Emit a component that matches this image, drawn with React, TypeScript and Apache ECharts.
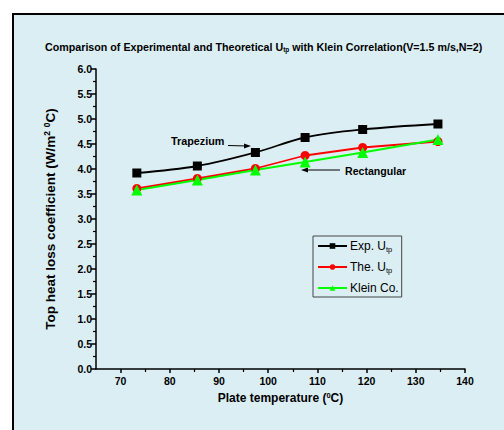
import React, { useEffect, useRef } from "react";
import * as echarts from "echarts";

const plateTemp = [73.3, 85.6, 97.4, 107.5, 119.2, 134.5];
const expUtp = [3.92, 4.06, 4.33, 4.63, 4.79, 4.9];
const theUtp = [3.61, 3.81, 4.01, 4.27, 4.43, 4.55];
const kleinCo = [3.58, 3.78, 3.98, 4.14, 4.33, 4.59];
const xMajorTicks = [70, 80, 90, 100, 110, 120, 130, 140];
const xMinorTicks = [75, 85, 95, 105, 115, 125, 135];

const FONT = "'Liberation Sans', Arial, sans-serif";

function pairs(xs: number[], ys: number[]) {
  return xs.map((x, i) => [x, ys[i]]);
}

export default function App() {
  const ref = useRef<HTMLDivElement>(null);
  useEffect(() => {
    if (!ref.current) return;
    const chart = echarts.init(ref.current, null, { renderer: "svg" });
    const axisCommon = {
      type: "value",
      axisLine: { show: true, lineStyle: { color: "#000", width: 1.5 } },
      splitLine: { show: false },
    };
    chart.setOption({
      animation: false,
      backgroundColor: "#ffffff",
      textStyle: { fontFamily: FONT },
      graphic: [
        {
          type: "rect",
          z: -10,
          silent: true,
          shape: { x: 13, y: 14, width: 520, height: 440 },
          style: { fill: "#dbeef4", stroke: "#000", lineWidth: 2 },
        },
        {
          type: "text",
          left: 171,
          top: 135,
          style: { text: "Trapezium", font: `bold 10.8px ${FONT}`, fill: "#000" },
        },
        {
          type: "line",
          shape: { x1: 228, y1: 145.5, x2: 247, y2: 146 },
          style: { stroke: "#000", lineWidth: 1 },
        },
        {
          type: "polygon",
          shape: { points: [[251, 146], [244, 143.5], [244, 148.5]] },
          style: { fill: "#000" },
        },
        {
          type: "text",
          left: 345,
          top: 165,
          style: { text: "Rectangular", font: `bold 10.6px ${FONT}`, fill: "#000" },
        },
        {
          type: "line",
          shape: { x1: 340, y1: 170, x2: 305, y2: 170 },
          style: { stroke: "#000", lineWidth: 1 },
        },
        {
          type: "polygon",
          shape: { points: [[301, 170], [308, 167.5], [308, 172.5]] },
          style: { fill: "#000" },
        },
      ],
      title: {
        left: 40,
        top: 35,
        text: "{t|Comparison of Experimental and Theoretical U}{s|tp}{t| with Klein Correlation(V=1.5 m/s,N=2)}",
        textStyle: {
          rich: {
            t: { fontSize: 10.7, fontWeight: "bold", fontFamily: FONT, color: "#000" },
            s: { fontSize: 6.5, fontWeight: "bold", fontFamily: FONT, color: "#000", padding: [6, 0, 0, 0] },
          },
        },
      },
      legend: {
        orient: "vertical",
        left: 313,
        top: 236,
        padding: [4, 3, 3, 4],
        itemWidth: 29,
        itemHeight: 7,
        itemGap: 8,
        borderColor: "#444",
        borderWidth: 1,
        backgroundColor: "#dbeef4",
        data: ["Exp. Utp", "The. Utp", "Klein Co."],
        formatter: (name: string) => {
          if (name.endsWith("Utp")) return `{a|${name.slice(0, -2)}}{s|tp}`;
          return `{a|${name}}`;
        },
        textStyle: {
          padding: [0, 0, 0, -2],
          rich: {
            a: { fontSize: 12, fontFamily: FONT, color: "#000" },
            s: { fontSize: 7.5, fontFamily: FONT, color: "#000", padding: [6, 0, 0, 0] },
          },
        },
      },
      grid: { left: 96, right: 39, top: 69, bottom: 61, containLabel: false },
      xAxis: [
        {
          ...axisCommon,
          min: 65,
          max: 140,
          name: "{t|Plate temperature (}{p|0}{t|C)}",
          nameLocation: "middle",
          nameGap: 22,
          nameTextStyle: {
            rich: {
              t: { fontSize: 12, fontWeight: "bold", fontFamily: FONT, color: "#000" },
              p: { fontSize: 7.5, fontWeight: "bold", fontFamily: FONT, color: "#000", padding: [0, 0, 6, 0] },
            },
          },
          axisTick: { show: true, length: 4, customValues: xMajorTicks, lineStyle: { color: "#000", width: 1.5 } },
          axisLabel: {
            customValues: xMajorTicks,
            margin: 6,
            fontSize: 10.5,
            fontWeight: "bold",
            color: "#000",
            fontFamily: FONT,
          },
        },
        {
          ...axisCommon,
          min: 65,
          max: 140,
          gridIndex: 0,
          position: "bottom",
          axisLine: { show: false },
          axisTick: { show: true, length: 3, customValues: xMinorTicks, lineStyle: { color: "#000", width: 1.2 } },
          axisLabel: { show: false },
        },
      ],
      yAxis: {
        ...axisCommon,
        min: 0,
        max: 6,
        interval: 0.5,
        name: "{t|Top heat loss coefficient (W/m}{p|2}{t| }{p|0}{t|C)}",
        nameLocation: "middle",
        nameGap: 37,
        nameTextStyle: {
          rich: {
            t: { fontSize: 13.5, fontWeight: "bold", fontFamily: FONT, color: "#000" },
            p: { fontSize: 8.5, fontWeight: "bold", fontFamily: FONT, color: "#000", padding: [0, 0, 8, 0] },
          },
        },
        axisTick: { show: true, length: 5, lineStyle: { color: "#000", width: 1.5 } },
        minorTick: { show: true, splitNumber: 2, length: 3, lineStyle: { color: "#000", width: 1.2 } },
        minorSplitLine: { show: false },
        axisLabel: {
          margin: 4,
          fontSize: 10.5,
          fontWeight: "bold",
          color: "#000",
          fontFamily: FONT,
          formatter: (v: number) => v.toFixed(1),
        },
      },
      series: [
        {
          name: "Exp. Utp",
          type: "line",
          data: pairs(plateTemp, expUtp),
          smooth: 0.35,
          symbol: "rect",
          symbolSize: 9,
          itemStyle: { color: "#000" },
          lineStyle: { color: "#000", width: 1.8 },
        },
        {
          name: "The. Utp",
          type: "line",
          data: pairs(plateTemp, theUtp),
          symbol: "circle",
          symbolSize: 9,
          itemStyle: { color: "#ff0000" },
          lineStyle: { color: "#ff0000", width: 1.8 },
        },
        {
          name: "Klein Co.",
          type: "line",
          data: pairs(plateTemp, kleinCo),
          symbol: "triangle",
          symbolSize: 11,
          itemStyle: { color: "#00ff00" },
          lineStyle: { color: "#00ff00", width: 1.8 },
        },
      ],
    });
    return () => chart.dispose();
  }, []);
  return (
    <div
      ref={ref}
      style={{ position: "fixed", left: 0, top: 0, width: 504, height: 430 }}
    />
  );
}
